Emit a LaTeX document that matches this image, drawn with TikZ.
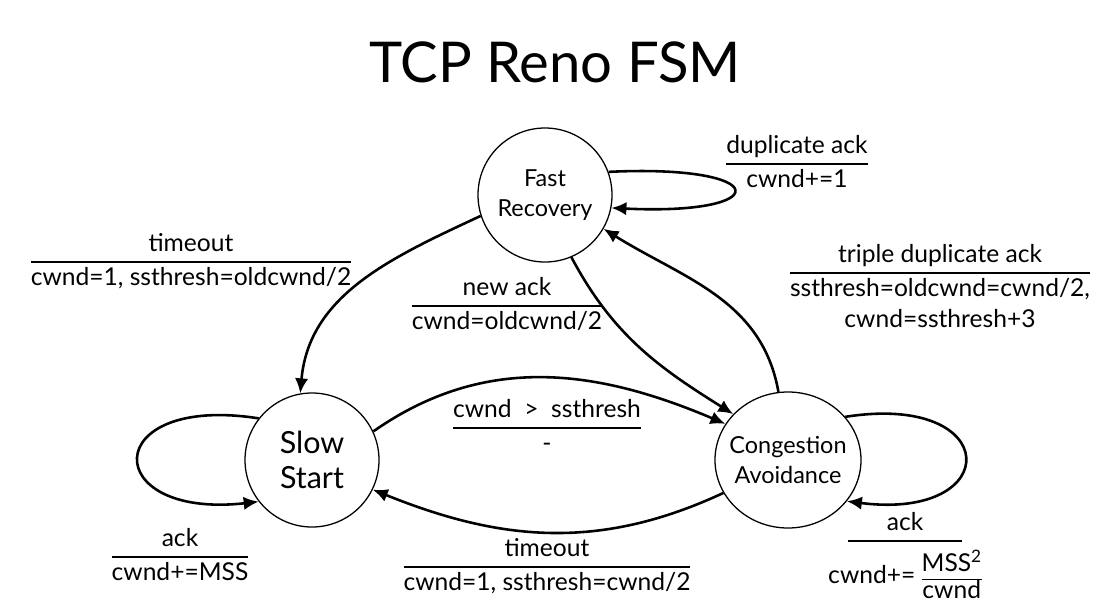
\documentclass[tikz,border=0pt]{standalone}
\usepackage{fontspec}
\setmainfont{Lato}
\usetikzlibrary{arrows.meta,shapes.geometric}
\setlength{\arrayrulewidth}{1.5pt}
\newcommand{\guardact}[2]{\begin{tabular}{@{}c@{}}#1\\\hline #2\end{tabular}}

\begin{document}
\begin{tikzpicture}[x=0.03cm,y=-0.03cm,
  state/.style={circle,draw,line width=1.1pt,minimum size=4.02cm,inner sep=0pt,align=center},
  move/.style={-{Latex[length=4.5mm,width=4mm]},line width=2.2pt},
  guard/.style={font=\fontsize{21}{27}\selectfont,inner sep=0pt}]
\useasboundingbox (0,0) rectangle (1114,606);

\path (555,62) node[font=\fontsize{48}{58}\selectfont] (title) {TCP Reno FSM};

\path (545,195) node[state,font=\fontsize{20}{25}\selectfont] (FR) {Fast\\Recovery};
\path (312,460) node[state,font=\fontsize{26}{30}\selectfont] (SS) {Slow\\Start};
\path (788,460) node[ellipse,draw,line width=1.1pt,minimum width=4.38cm,minimum height=4.08cm,
  inner xsep=-0.25cm,inner ysep=0pt,align=center,font=\fontsize{20}{25}\selectfont] (CA) {Congestion\\Avoidance};

% self loops
\draw[move] (FR.20) .. controls +(165,-8) and +(165,8) .. (FR.-11);
\draw[move] (SS.142) .. controls +(-160,-25) and +(-160,18) .. (SS.218);
\draw[move] (CA.37) .. controls +(158,-25) and +(158,20) .. (CA.-35);

% between states
\draw[move] (FR.198) to[out=205,in=85] (SS.100);
\draw[move] (FR.-67) to[out=-62,in=148] (CA.140);
\draw[move] (CA.98) to[out=100,in=-32] (FR.-30);
\draw[move] (SS.25) to[out=35,in=157] (CA.150);
\draw[move] (CA.207) to[out=205,in=-22] (SS.-26);

% labels
\path (797,164) node[guard] (dupack) {\guardact{duplicate ack}{cwnd+=1}};
\path (191,262) node[guard] (ssto) {\guardact{timeout}{cwnd=1, ssthresh=oldcwnd/2}};
\path (507,306) node[guard] (newack) {\guardact{new ack}{cwnd=oldcwnd/2}};
\path (940,289) node[guard] (tripack) {\guardact{triple duplicate ack}{ssthresh=oldcwnd=cwnd/2,\\cwnd=ssthresh+3}};
\path (547,428) node[guard] (ovr) {\guardact{cwnd \ > \ ssthresh}{-}};
\path (180,557) node[guard] (ssack) {\guardact{ack}{cwnd+=MSS}};
\path (547,567) node[guard] (cato) {\guardact{timeout}{cwnd=1, ssthresh=cwnd/2}};
\path (905,557) node[guard] (caack) {\guardact{ack}{\rule{0pt}{36pt}\makebox[3.4cm]{cwnd+=
  {\def\arraystretch{0.75}\begin{tabular}[c]{@{}c@{}}MSS\textsuperscript{2}\\\hline cwnd\end{tabular}}}}};
\end{tikzpicture}
\end{document}
